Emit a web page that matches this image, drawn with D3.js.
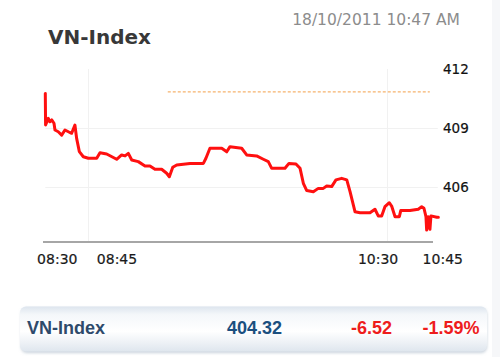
<!DOCTYPE html>
<html>
<head>
<meta charset="utf-8">
<script src="https://cdn.jsdelivr.net/npm/d3@7"></script>
<style>
  html, body { margin: 0; padding: 0; background: #ffffff; }
  svg { display: block; }
</style>
</head>
<body>
<svg id="chart" width="500" height="357"></svg>
<script>
// ---- data ----
const indexName = "VN-Index";
const stampText = "18/10/2011 10:47 AM";
const times = [
  "08:30:00","08:30:06","08:31:03","08:31:39","08:32:15","08:33:03","08:33:24","08:34:33","08:35:45","08:36:54",
  "08:38:06","08:39:15","08:40:24","08:41:00","08:41:57","08:43:21","08:45:06","08:48:03","08:49:12","08:51:33",
  "08:55:03","08:56:48","08:58:00","08:59:09","09:00:21","09:02:39","09:05:00","09:06:45","09:08:30","09:10:51",
  "09:12:36","09:13:33","09:14:45","09:16:09","09:20:48","09:25:30","09:26:24","09:27:48","09:31:57","09:33:42",
  "09:34:51","09:38:57","09:40:42","09:44:12","09:46:33","09:48:18","09:49:30","09:54:09","09:55:33","09:58:00",
  "09:59:27","10:00:36","10:01:48","10:04:06","10:05:51","10:07:36","10:08:48","10:10:33","10:12:03","10:14:03",
  "10:15:51","10:17:00","10:18:45","10:20:30","10:24:00","10:25:45","10:26:54","10:28:06","10:29:15","10:30:48",
  "10:31:36","10:32:48","10:34:18","10:34:48","10:38:03","10:40:57","10:42:09","10:42:57","10:43:39","10:43:54",
  "10:44:27","10:45:03","10:45:24","10:47:27","10:48:00"
];
const values = [
  410.76,409.15,409.49,409.32,409.41,409.24,408.90,408.81,408.64,408.90,
  408.81,408.73,409.15,408.47,407.80,407.54,407.46,407.46,407.74,407.68,
  407.41,407.63,407.58,407.71,407.37,407.29,407.07,407.07,406.90,406.90,
  406.70,406.52,407.00,407.12,407.20,407.20,407.46,407.97,407.97,407.79,
  408.05,407.97,407.63,407.58,407.41,407.29,406.95,406.95,407.20,407.17,
  406.95,406.19,405.82,405.76,405.93,405.93,406.05,406.02,406.36,406.44,
  406.36,405.76,404.74,404.69,404.69,404.87,404.53,404.53,405.00,405.20,
  405.03,404.49,404.49,404.80,404.80,404.87,405.00,404.92,404.49,403.81,
  404.49,403.85,404.53,404.46,404.46
];
const xTickLabels = ["08:30","08:45","10:30","10:45"];
const yTickValues = [406, 409, 412];
const gridValues = [406, 409];
const refValue = 410.84;          // previous close
const refStart = "09:13:00";
const refEnd = "10:45:00";
const summaryLast = "404.32";
const summaryChange = "-6.52";
const summaryPct = "-1.59%";

// ---- drawing ----
const svg = d3.select("#chart");
const parseT = d3.timeParse("%H:%M:%S");
const parseHM = d3.timeParse("%H:%M");
const data = times.map((t, i) => ({ t: parseT(t), v: values[i] }));

const x = d3.scaleTime().domain([parseHM("08:30"), parseHM("10:45")]).range([45.3, 429.8]);
const y = d3.scaleLinear().domain([403, 412]).range([246, 69]);

// defs: gradient for summary bar
const defs = svg.append("defs");
const g = defs.append("linearGradient").attr("id", "barGrad").attr("x1", 0).attr("y1", 0).attr("x2", 0).attr("y2", 1);
g.append("stop").attr("offset", "0%").attr("stop-color", "#dde5ee");
g.append("stop").attr("offset", "18%").attr("stop-color", "#f4f7fa");
g.append("stop").attr("offset", "55%").attr("stop-color", "#ffffff");
g.append("stop").attr("offset", "100%").attr("stop-color", "#dfe6ee");
const f = defs.append("filter").attr("id", "blur").attr("x", "-5%").attr("y", "-20%").attr("width", "110%").attr("height", "160%");
f.append("feGaussianBlur").attr("stdDeviation", 1.5);

// right page edge
svg.append("rect").attr("x", 492).attr("y", 0).attr("width", 8).attr("height", 357).attr("fill", "#f6f7f9");

// header
svg.append("text").attr("x", 48).attr("y", 44)
  .attr("font-family", "DejaVu Sans, Verdana, sans-serif").attr("font-weight", "bold")
  .attr("font-size", 20).attr("fill", "#383838").text(indexName);
svg.append("text").attr("x", 460).attr("y", 25).attr("text-anchor", "end")
  .attr("font-family", "DejaVu Sans, Verdana, sans-serif")
  .attr("font-size", 15.5).attr("fill", "#8c8c8c").text(stampText);

// gridlines
const grid = svg.append("g").attr("stroke", "#f1f1f1").attr("stroke-width", 1);
grid.selectAll("line.h").data(gridValues).enter().append("line")
  .attr("x1", x.range()[0]).attr("x2", x.range()[1] + 8)
  .attr("y1", d => Math.round(y(d)) + 0.5).attr("y2", d => Math.round(y(d)) + 0.5);
const innerTicks = xTickLabels.slice(1, -1).map(parseHM);
grid.selectAll("line.v").data(innerTicks).enter().append("line")
  .attr("x1", d => Math.round(x(d)) + 0.5).attr("x2", d => Math.round(x(d)) + 0.5)
  .attr("y1", y(412)).attr("y2", 242);

// reference (previous close) dashed line
svg.append("line")
  .attr("x1", x(parseT(refStart))).attr("x2", x(parseT(refEnd)))
  .attr("y1", y(refValue)).attr("y2", y(refValue))
  .attr("stroke", "#f6b36e").attr("stroke-width", 1.2).attr("stroke-dasharray", "3,2");

// y labels (right)
svg.append("g").selectAll("text").data(yTickValues).enter().append("text")
  .attr("x", 443).attr("y", d => y(d)).attr("dy", 4.5)
  .attr("font-family", "DejaVu Sans, Verdana, sans-serif").attr("font-size", 13.5)
  .attr("fill", "#111").attr("stroke", "#111").attr("stroke-width", 0.2).text(d => d);

// x axis baseline
svg.append("line").attr("x1", 43).attr("x2", 433).attr("y1", 242).attr("y2", 242)
  .attr("stroke", "#a6a6a6").attr("stroke-width", 2);

// x labels
const labelShift = [12, 29, -9, 13];
svg.append("g").selectAll("text").data(xTickLabels).enter().append("text")
  .attr("x", (d, i) => x(parseHM(d)) + labelShift[i]).attr("y", 264)
  .attr("text-anchor", "middle")
  .attr("font-family", "DejaVu Sans, Verdana, sans-serif").attr("font-size", 14)
  .attr("fill", "#1a1a1a").attr("stroke", "#1a1a1a").attr("stroke-width", 0.2).text(d => d);

// price line
const line = d3.line().x(d => x(d.t)).y(d => y(d.v)).curve(d3.curveLinear);
svg.append("path").datum(data).attr("d", line)
  .attr("fill", "none").attr("stroke", "#ff1010").attr("stroke-width", 3)
  .attr("stroke-linejoin", "round").attr("stroke-linecap", "round");

// summary bar
svg.append("rect").attr("x", 21).attr("y", 308).attr("width", 466).attr("height", 45).attr("rx", 6)
  .attr("fill", "#c9d2dc").attr("filter", "url(#blur)");
svg.append("rect").attr("x", 20).attr("y", 306.5).attr("width", 467).attr("height", 45).attr("rx", 6)
  .attr("fill", "url(#barGrad)");
const sFont = "Liberation Sans, Arial, sans-serif";
svg.append("text").attr("x", 27).attr("y", 333.5).attr("font-family", sFont).attr("font-weight", "bold")
  .attr("font-size", 18).attr("fill", "#2e4a6b").text(indexName);
svg.append("text").attr("x", 282).attr("y", 333.5).attr("text-anchor", "end").attr("font-family", sFont)
  .attr("font-weight", "bold").attr("font-size", 18).attr("fill", "#1b4f7f").text(summaryLast);
svg.append("text").attr("x", 392).attr("y", 333.5).attr("text-anchor", "end").attr("font-family", sFont)
  .attr("font-weight", "bold").attr("font-size", 18).attr("fill", "#ee1c1c").text(summaryChange);
svg.append("text").attr("x", 479.5).attr("y", 333.5).attr("text-anchor", "end").attr("font-family", sFont)
  .attr("font-weight", "bold").attr("font-size", 18).attr("fill", "#ee1c1c").text(summaryPct);
</script>
</body>
</html>
